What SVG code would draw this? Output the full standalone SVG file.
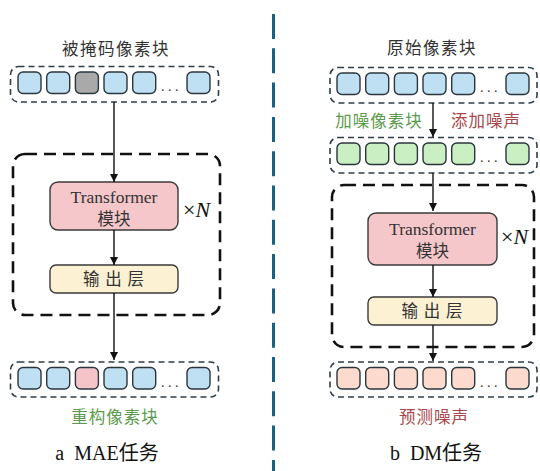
<svg xmlns="http://www.w3.org/2000/svg" width="540" height="471" viewBox="0 0 540 471">
<defs>
<marker id="ah" viewBox="0 0 10 10" refX="10" refY="5" markerWidth="8" markerHeight="9" markerUnits="userSpaceOnUse" orient="auto">
<path d="M0,0 L10,5 L0,10 z" fill="#111"/>
</marker>
<style>
.strip{fill:none;stroke:#2f3d47;stroke-width:1.6;stroke-dasharray:6 4}
.big{fill:none;stroke:#111;stroke-width:2.6;stroke-dasharray:12 7}
.tok{stroke:#2b353c;stroke-width:1.4}
.blue{fill:#bfe0f3}
.gray{fill:#a9a9a9}
.pink{fill:#f5c4c9}
.green{fill:#c9efc3}
.peach{fill:#fcdacd}
.tf{fill:#f5c7cb;stroke:#3a3a3a;stroke-width:1.4}
.out{fill:#fdf1d3;stroke:#3a3a3a;stroke-width:1.4}
.cn{font-family:"Noto Sans CJK SC","Liberation Sans",sans-serif;font-size:16.5px;fill:#333;text-anchor:middle}
.tr{font-family:"Liberation Serif","Noto Sans CJK SC",serif;font-size:17.5px;fill:#333;text-anchor:middle}
.cap{font-family:"Liberation Serif","Noto Sans CJK SC",serif;font-size:20px;fill:#111;text-anchor:middle}
.xn{font-family:"Liberation Serif",serif;font-size:22px;fill:#111}
.dots{font-family:"Liberation Serif",serif;font-size:14px;fill:#333}
.gtxt{fill:#5b9a4d}
.rtxt{fill:#a8474c}
.conn{stroke:#111;stroke-width:1.4;fill:none;marker-end:url(#ah)}
</style>
</defs>
<rect width="540" height="471" fill="#ffffff"/>

<!-- divider -->
<line x1="273.5" y1="14" x2="273.5" y2="471" stroke="#1d5f7f" stroke-width="3" stroke-dasharray="25 9.3"/>

<!-- LEFT PANEL -->
<g id="title-left"><text class="cn" x="116" y="55" letter-spacing="1.5">被掩码像素块</text></g>

<g id="masked-strip">
<rect class="strip" x="10.5" y="66.5" width="208" height="35.5" rx="8"/>
<rect class="tok blue" x="18" y="72" width="23" height="21.5" rx="5"/>
<rect class="tok blue" x="46.7" y="72" width="23" height="21.5" rx="5"/>
<rect class="tok gray" x="75.4" y="72" width="23" height="21.5" rx="5"/>
<rect class="tok blue" x="104" y="72" width="23" height="21.5" rx="5"/>
<rect class="tok blue" x="132.7" y="72" width="23" height="21.5" rx="5"/>
<text class="dots" x="161" y="91">. . .</text>
<rect class="tok blue" x="187" y="72" width="23" height="21.5" rx="5"/>
</g>

<g id="loop-left">
<rect class="big" x="13" y="154" width="207" height="161" rx="12"/>
<text class="xn" x="183" y="217">×<tspan font-style="italic">N</tspan></text>
</g>

<g id="transformer-left">
<rect class="tf" x="50" y="182" width="128" height="48" rx="8"/>
<text class="tr" x="114" y="203">Transformer</text>
<text class="cn" x="114" y="225">模块</text>
</g>

<g id="output-left">
<rect class="out" x="50" y="265" width="128" height="28" rx="6"/>
<text class="cn" x="114" y="285" letter-spacing="1">输 出 层</text>
</g>

<g id="recon-strip">
<rect class="strip" x="10.5" y="362" width="208" height="35" rx="8"/>
<rect class="tok blue" x="18" y="367.5" width="23" height="21.5" rx="5"/>
<rect class="tok blue" x="46.7" y="367.5" width="23" height="21.5" rx="5"/>
<rect class="tok pink" x="75.4" y="367.5" width="23" height="21.5" rx="5"/>
<rect class="tok blue" x="104" y="367.5" width="23" height="21.5" rx="5"/>
<rect class="tok blue" x="132.7" y="367.5" width="23" height="21.5" rx="5"/>
<text class="dots" x="161" y="387">. . .</text>
<rect class="tok blue" x="187" y="367.5" width="23" height="21.5" rx="5"/>
</g>
<g id="label-recon"><text class="cn gtxt" x="115" y="423" letter-spacing="1">重构像素块</text></g>
<g id="caption-a"><text class="cap" x="107" y="460" xml:space="preserve">a  MAE任务</text></g>

<!-- RIGHT PANEL -->
<g id="title-right"><text class="cn" x="432" y="54" letter-spacing="1.5">原始像素块</text></g>

<g id="orig-strip">
<rect class="strip" x="330" y="67.5" width="207" height="35.5" rx="8"/>
<rect class="tok blue" x="337" y="73" width="23" height="21.5" rx="5"/>
<rect class="tok blue" x="365.7" y="73" width="23" height="21.5" rx="5"/>
<rect class="tok blue" x="394.4" y="73" width="23" height="21.5" rx="5"/>
<rect class="tok blue" x="423" y="73" width="23" height="21.5" rx="5"/>
<rect class="tok blue" x="451.7" y="73" width="23" height="21.5" rx="5"/>
<text class="dots" x="480" y="92">. . .</text>
<rect class="tok blue" x="506" y="73" width="23" height="21.5" rx="5"/>
</g>

<g id="label-noisy"><text class="cn gtxt" x="379" y="127" letter-spacing="1">加噪像素块</text></g>
<g id="label-addnoise"><text class="cn rtxt" x="486" y="127" letter-spacing="1">添加噪声</text></g>

<g id="noisy-strip">
<rect class="strip" x="330" y="137.5" width="207" height="35.5" rx="8"/>
<rect class="tok green" x="337" y="143" width="23" height="21.5" rx="5"/>
<rect class="tok green" x="365.7" y="143" width="23" height="21.5" rx="5"/>
<rect class="tok green" x="394.4" y="143" width="23" height="21.5" rx="5"/>
<rect class="tok green" x="423" y="143" width="23" height="21.5" rx="5"/>
<rect class="tok green" x="451.7" y="143" width="23" height="21.5" rx="5"/>
<text class="dots" x="480" y="162">. . .</text>
<rect class="tok green" x="506" y="143" width="23" height="21.5" rx="5"/>
</g>

<g id="loop-right">
<rect class="big" x="332" y="185" width="202" height="162" rx="12"/>
<text class="xn" x="501" y="244">×<tspan font-style="italic">N</tspan></text>
</g>

<g id="transformer-right">
<rect class="tf" x="368" y="213" width="129" height="52" rx="8"/>
<text class="tr" x="432.5" y="235">Transformer</text>
<text class="cn" x="432.5" y="257">模块</text>
</g>

<g id="output-right">
<rect class="out" x="368" y="297" width="129" height="28" rx="6"/>
<text class="cn" x="432.5" y="317" letter-spacing="1">输 出 层</text>
</g>

<g id="noise-strip">
<rect class="strip" x="330" y="362" width="207" height="35" rx="8"/>
<rect class="tok peach" x="337" y="367.5" width="23" height="21.5" rx="5"/>
<rect class="tok peach" x="365.7" y="367.5" width="23" height="21.5" rx="5"/>
<rect class="tok peach" x="394.4" y="367.5" width="23" height="21.5" rx="5"/>
<rect class="tok peach" x="423" y="367.5" width="23" height="21.5" rx="5"/>
<rect class="tok peach" x="451.7" y="367.5" width="23" height="21.5" rx="5"/>
<text class="dots" x="480" y="387">. . .</text>
<rect class="tok peach" x="506" y="367.5" width="23" height="21.5" rx="5"/>
</g>
<g id="label-prednoise"><text class="cn rtxt" x="434" y="423" letter-spacing="1">预测噪声</text></g>
<g id="caption-b"><text class="cap" x="436" y="460" xml:space="preserve">b  DM任务</text></g>

<!-- connectors -->
<g id="connectors">
<line class="conn" x1="114" y1="102" x2="114" y2="182"/>
<line class="conn" x1="114" y1="230" x2="114" y2="265"/>
<line class="conn" x1="114" y1="293" x2="114" y2="360"/>
<line class="conn" x1="433" y1="103" x2="433" y2="137"/>
<line class="conn" x1="433" y1="173" x2="433" y2="211"/>
<line class="conn" x1="433" y1="265" x2="433" y2="297"/>
<line class="conn" x1="433" y1="325" x2="433" y2="361"/>
</g>
</svg>
